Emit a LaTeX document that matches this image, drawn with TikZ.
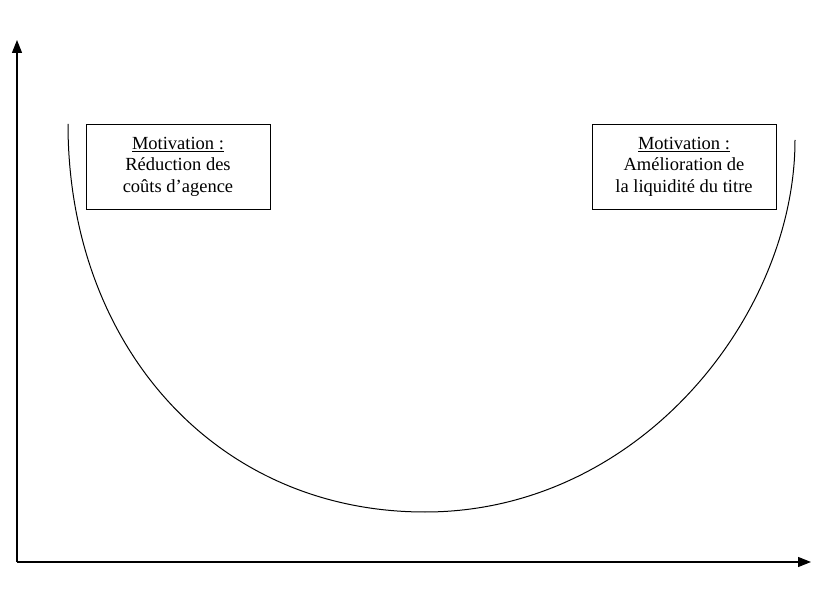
\documentclass[tikz,border=0pt]{standalone}
\usepackage{fontspec}
\setmainfont{Liberation Serif}
\usetikzlibrary{arrows.meta}
\begin{document}
\begin{tikzpicture}[x=1pt,y=-1pt,
  axis/.style={line width=1.1pt,-{Triangle[length=13pt,width=10pt]}},
  box/.style={draw,line width=0.9pt,minimum width=184pt,minimum height=85pt,align=center,font=\fontsize{18.5}{21.5}\selectfont,inner sep=2pt}]
\useasboundingbox (0,0) rectangle (820,612);
\coordinate (o) at (17,562);
\coordinate (yt) at (17,40);
\coordinate (xt) at (811,562);
\draw[axis] (o) -- (yt);
\draw[axis] (o) -- (xt);
\coordinate (cs) at (68,124);
\coordinate (cb) at (425,512);
\coordinate (ce) at (795,140);
\draw[line width=1pt] (cs) .. controls (68,345) and (215,512) .. (cb) .. controls (640,512) and (795,315) .. (ce);
\node[box] (l) at (178,166.5) {\underline{Motivation :}\\Réduction des\\coûts d’agence};
\node[box] (r) at (684,166.5) {\underline{Motivation :}\\Amélioration de\\la liquidité du titre};
\end{tikzpicture}
\end{document}
